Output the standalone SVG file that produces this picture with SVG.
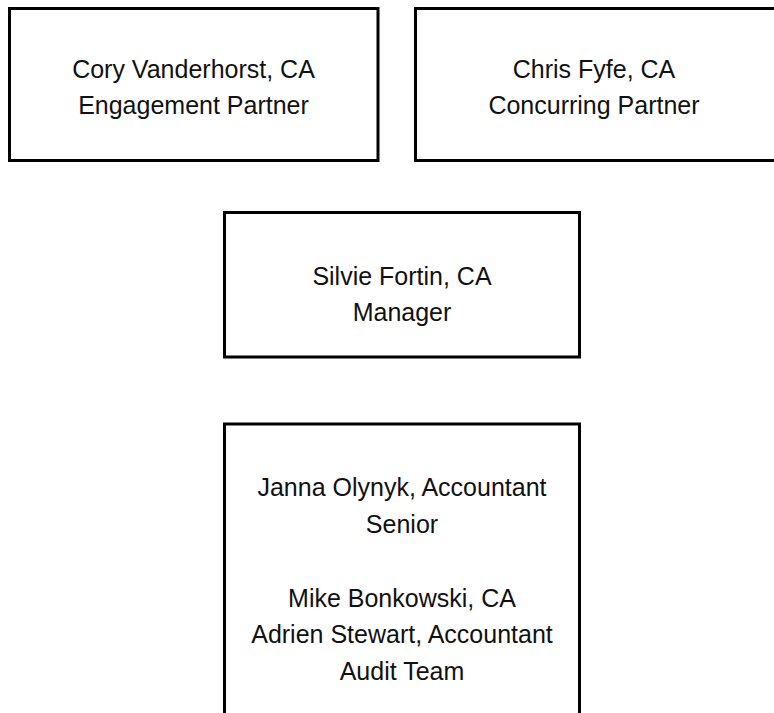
<svg xmlns="http://www.w3.org/2000/svg" width="774" height="713" viewBox="0 0 774 713">
  <style>
    .box { fill: #ffffff; stroke: #000000; stroke-width: 3; }
    .label { font-family: "Liberation Sans", Arial, sans-serif; font-size: 25px; fill: #111111; text-anchor: middle; }
  </style>
  <rect x="0" y="0" width="774" height="713" fill="#ffffff"/>
  <g id="connectors"></g>
  <g id="engagement-partner">
    <rect class="box" x="9.5" y="8.5" width="368.5" height="152"/>
    <text class="label" x="193.5" y="78">Cory Vanderhorst, CA</text>
    <text class="label" x="193.5" y="114">Engagement Partner</text>
  </g>
  <g id="concurring-partner">
    <rect class="box" x="415.5" y="8.5" width="380" height="152"/>
    <text class="label" x="594" y="78">Chris Fyfe, CA</text>
    <text class="label" x="594" y="114">Concurring Partner</text>
  </g>
  <g id="manager">
    <rect class="box" x="224.5" y="212.5" width="355" height="144.5"/>
    <text class="label" x="402" y="285">Silvie Fortin, CA</text>
    <text class="label" x="402" y="321">Manager</text>
  </g>
  <g id="audit-team">
    <rect class="box" x="224.5" y="424" width="355" height="310"/>
    <text class="label" x="402" y="496">Janna Olynyk, Accountant</text>
    <text class="label" x="402" y="533">Senior</text>
    <text class="label" x="402" y="607">Mike Bonkowski, CA</text>
    <text class="label" x="402" y="643">Adrien Stewart, Accountant</text>
    <text class="label" x="402" y="680">Audit Team</text>
  </g>
</svg>
